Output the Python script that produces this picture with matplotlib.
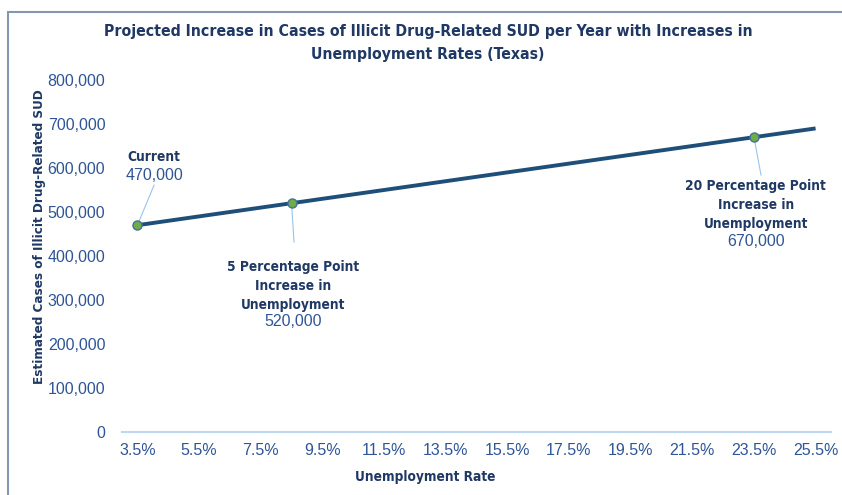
import matplotlib.pyplot as plt
from matplotlib.patches import Rectangle
from matplotlib.ticker import FuncFormatter

# Data
line_x = [3.5, 8.5, 23.5, 25.5]
line_y = [470000, 520000, 670000, 690000]
marker_x = [3.5, 8.5, 23.5]
marker_y = [470000, 520000, 670000]
labels = ["Current", "5 Percentage Point\nIncrease in\nUnemployment",
          "20 Percentage Point\nIncrease in\nUnemployment"]
value_labels = ["470,000", "520,000", "670,000"]
tick_x = [3.5, 5.5, 7.5, 9.5, 11.5, 13.5, 15.5, 17.5, 19.5, 21.5, 23.5, 25.5]

title_color = "#1F3864"
tick_color = "#2F5597"
line_color = "#1F4E79"
bold_font = ["DejaVu Sans"]
reg_font = ["Liberation Sans", "DejaVu Sans"]

W, H = 842, 495
fig = plt.figure(figsize=(W / 100, H / 100), dpi=100)
ax = fig.add_axes([122 / W, 1 - 432 / H, (831 - 122) / W, (432 - 80) / H])

# Rahmen
fig.patches.append(Rectangle((8 / W, -0.05), 1.1, 1 - 12 / H + 0.05, transform=fig.transFigure,
                             fill=False, edgecolor="#8497B0", linewidth=1.5))

ax.plot(line_x, line_y, color=line_color, linewidth=2.8, solid_capstyle="butt", zorder=3)
ax.plot(marker_x, marker_y, linestyle="none", marker="o", markersize=6.5,
        markerfacecolor="#70AD47", markeredgecolor="#41719C", markeredgewidth=1, zorder=4)

ax.set_xlim(3.0, 26.0)
ax.set_ylim(0, 800000)
ax.set_xticks(tick_x)
ax.set_xticklabels([f"{t}%" for t in tick_x])
ax.set_yticks(range(0, 800001, 100000))
ax.yaxis.set_major_formatter(FuncFormatter(lambda v, p: f"{int(v):,}"))
ax.tick_params(length=0, colors=tick_color, labelsize=11.5, pad=8)
for lbl in ax.get_xticklabels() + ax.get_yticklabels():
    lbl.set_family(reg_font)
ax.tick_params(axis="y", pad=12)
for s in ["top", "right", "left"]:
    ax.spines[s].set_visible(False)
ax.spines["bottom"].set_color("#BDD7EE")
ax.spines["bottom"].set_linewidth(1.5)

# Beschriftungen der Punkte
label_pos = [(4.04, 625000), (8.55, 331800), (23.56, 516000)]
value_pos = [(4.04, 584000), (8.55, 250000), (23.56, 434000)]
conn_end = [(4.04, 561000), (8.58, 431800), (23.73, 584000)]
for i in range(3):
    ax.text(label_pos[i][0], label_pos[i][1], labels[i], ha="center", va="center",
            fontsize=9.8, fontweight="bold", fontstretch="condensed", color=title_color,
            family=bold_font, linespacing=1.45)
    ax.text(value_pos[i][0], value_pos[i][1], value_labels[i], ha="center", va="center",
            fontsize=11.5, color=tick_color, family=reg_font)
    ax.plot([marker_x[i], conn_end[i][0]], [marker_y[i], conn_end[i][1]],
            color="#9DC3E6", linewidth=0.8, zorder=2)

fig.text(428 / W, 1 - 43 / H,
         "Projected Increase in Cases of Illicit Drug-Related SUD per Year with Increases in\nUnemployment Rates (Texas)",
         ha="center", va="center", fontsize=11.3, fontweight="bold", fontstretch="condensed",
         color=title_color, family=bold_font, linespacing=1.6)
fig.text(425 / W, 1 - 477 / H, "Unemployment Rate", ha="center", va="center",
         fontsize=9.8, fontweight="bold", fontstretch="condensed", color=title_color,
         family=bold_font)
fig.text(40 / W, 1 - 237 / H, "Estimated Cases of Illicit Drug-Related SUD", ha="center",
         va="center", rotation=90, fontsize=9.6, fontweight="bold", fontstretch="condensed",
         color=title_color, family=bold_font)

plt.savefig("out.png", dpi=100)
